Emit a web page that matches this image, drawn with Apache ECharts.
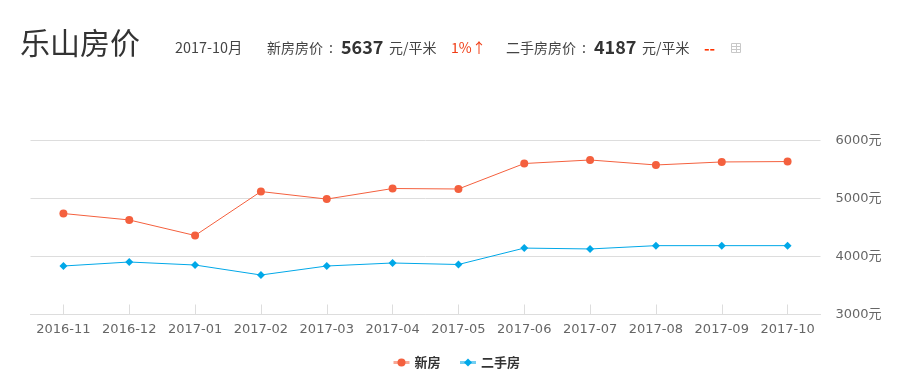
<!DOCTYPE html>
<html><head><meta charset="utf-8">
<style>html,body{margin:0;padding:0;background:#fff}#c{width:910px;height:387px}</style>
<script src="https://cdn.jsdelivr.net/npm/echarts@6/dist/echarts.min.js"></script>
</head><body><div id="c"></div>
<script>
const categories=['2016-11','2016-12','2017-01','2017-02','2017-03','2017-04','2017-05','2017-06','2017-07','2017-08','2017-09','2017-10'];
const newHome=[4741,4630,4362,5120,4990,5172,5164,5603,5664,5578,5630,5637];
const resale=[3836,3905,3853,3681,3836,3888,3862,4145,4130,4187,4187,4187];
const seriesNames=['新房','二手房'];
const FONT='"Noto Sans CJK SC","Noto Sans",sans-serif';
const t=(x,y,text,size,color,weight)=>({type:'text',x,y,silent:true,style:{text,fontFamily:FONT,fontSize:size,fill:color,fontWeight:weight||'normal',textVerticalAlign:'middle'}});
const ln=(x1,y1,x2,y2)=>({type:'line',silent:true,shape:{x1,y1,x2,y2},style:{stroke:'#c8c8c8',lineWidth:1}});
const chart=echarts.init(document.getElementById('c'),null,{renderer:'canvas'});
chart.setOption({
 animation:false,
 grid:{left:30.5,right:89.5,top:140.5,bottom:72.5},
 legend:{data:seriesNames,top:351,left:387,itemGap:18,itemWidth:16,itemHeight:10,
  lineStyle:{width:3,opacity:0.55},
  textStyle:{fontFamily:FONT,fontSize:13,color:'#333',fontWeight:'bold'}},
 xAxis:{type:'category',data:categories,boundaryGap:true,
  axisLine:{lineStyle:{color:'#ddd'}},
  axisTick:{show:true,alignWithLabel:true,inside:true,length:10,lineStyle:{color:'#ddd'}},
  axisLabel:{color:'#666',fontFamily:'"DejaVu Sans",sans-serif',fontSize:13,margin:9,interval:0}},
 yAxis:{type:'value',position:'right',min:3000,max:6000,interval:1000,
  axisLine:{show:false},axisTick:{show:false},
  splitLine:{lineStyle:{color:'#ddd'}},
  axisLabel:{color:'#666',fontFamily:'"DejaVu Sans","Noto Sans CJK SC",sans-serif',fontSize:13,margin:15,formatter:v=>String(v)+'元'}},
 series:[
  {name:seriesNames[0],type:'line',data:newHome,symbol:'circle',symbolSize:8,
   lineStyle:{color:'#f4603e',width:1},itemStyle:{color:'#f4603e'}},
  {name:seriesNames[1],type:'line',data:resale,symbol:'diamond',symbolSize:8,
   lineStyle:{color:'#00a8e8',width:1},itemStyle:{color:'#00a8e8'}}
 ],
 graphic:[
  t(20,43,'乐山房价',30,'#333'),
  t(175,48,'2017-10月',14.4,'#444'),
  t(267,48,'新房房价',14,'#444'),
  t(329,48,':',14,'#444'),
  t(341,47,'5637',18,'#333','bold'),
  t(389,48,'元/平米',14,'#444'),
  t(451,48,'1%',14,'#f03c14'),
  t(472,48,'↑',14,'#f03c14'),
  t(506,48,'二手房房价',14,'#444'),
  t(582,48,':',14,'#444'),
  t(594,47,'4187',18,'#333','bold'),
  t(642,48,'元/平米',14,'#444'),
  t(704,48,'--',15,'#ff3300','bold'),
  {type:'rect',silent:true,shape:{x:731.5,y:43.5,width:9,height:9},style:{fill:'none',stroke:'#c8c8c8',lineWidth:1}},
  ln(731.5,46.5,740.5,46.5),ln(731.5,49.5,740.5,49.5),ln(736.5,43.5,736.5,52.5)
 ]
});
</script></body></html>
